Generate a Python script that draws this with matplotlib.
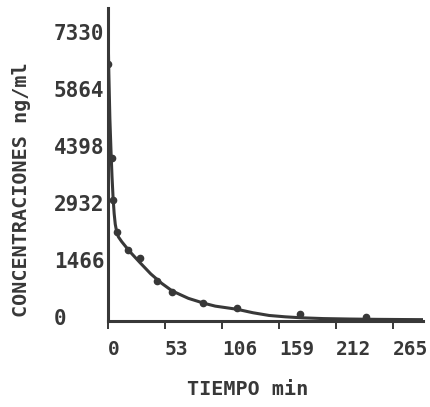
import matplotlib
matplotlib.use("Agg")
import matplotlib.pyplot as plt
from matplotlib.transforms import ScaledTranslation

# measured concentrations (ng/ml) vs time (min)
tiempo = [0, 3.7, 4.8, 8.4, 19, 30, 45.6, 59.5, 89, 120, 179, 240]
concentracion = [6600, 4180, 3100, 2290, 1810, 1610, 1020, 740, 440, 320, 160, 82]

# fitted curve
curva_t = [0, 1, 2, 3, 4, 5, 6, 7, 8.5, 10, 13, 20, 30, 40, 50, 60, 75, 90,
           100, 120, 135, 150, 165, 180, 200, 225, 250, 275, 293]
curva_c = [8000, 6400, 5200, 4400, 3700, 3150, 2750, 2480, 2260, 2150, 2030,
           1790, 1490, 1200, 960, 760, 570, 440, 370, 290, 200, 130, 95, 70,
           50, 38, 30, 25, 22]

xticks = [0, 53, 106, 159, 212, 265]
yticks = [0, 1466, 2932, 4398, 5864, 7330]

ink = "#383838"
mono = "DejaVu Sans Mono"

fig = plt.figure(figsize=(4.3, 4.07), dpi=100)
ax = fig.add_axes([0.2505, 0.2125, 0.7332, 0.7675])

ax.plot(curva_t, curva_c, color=ink, lw=2.2, solid_capstyle="round")
ax.plot(tiempo, concentracion, "o", color=ink, ms=4.5)

ax.set_xlim(0, 293)
ax.set_ylim(0, 8040)

for s in ["top", "right"]:
    ax.spines[s].set_visible(False)
for s in ["left", "bottom"]:
    ax.spines[s].set_color(ink)
    ax.spines[s].set_linewidth(2.2)

ax.set_xticks(xticks)
ax.set_xticklabels([str(v) for v in xticks], fontfamily=mono,
                   fontweight="bold", fontsize=14, color=ink, ha="left")
ax.tick_params(axis="x", direction="out", length=5.8, width=1.4,
               color=ink, pad=8)

ax.set_yticks(yticks)
ax.set_yticklabels([str(v) for v in yticks], fontfamily=mono,
                   fontweight="bold", fontsize=15, color=ink, ha="left")
ax.tick_params(axis="y", length=0, pad=38.7)
shift = ScaledTranslation(0, 4 / 100, fig.dpi_scale_trans)
for lab in ax.get_yticklabels():
    lab.set_transform(lab.get_transform() + shift)

fig.text(0.577, 0.042, "TIEMPO min", fontfamily=mono, fontweight="bold",
         fontsize=14.5, color=ink, ha="center", va="center")
fig.text(0.049, 0.533, "CONCENTRACIONES ng/ml", fontfamily=mono,
         fontweight="bold", fontsize=14.5, color=ink, rotation=90,
         ha="center", va="center")

fig.savefig("out.png", dpi=100, facecolor="white")
